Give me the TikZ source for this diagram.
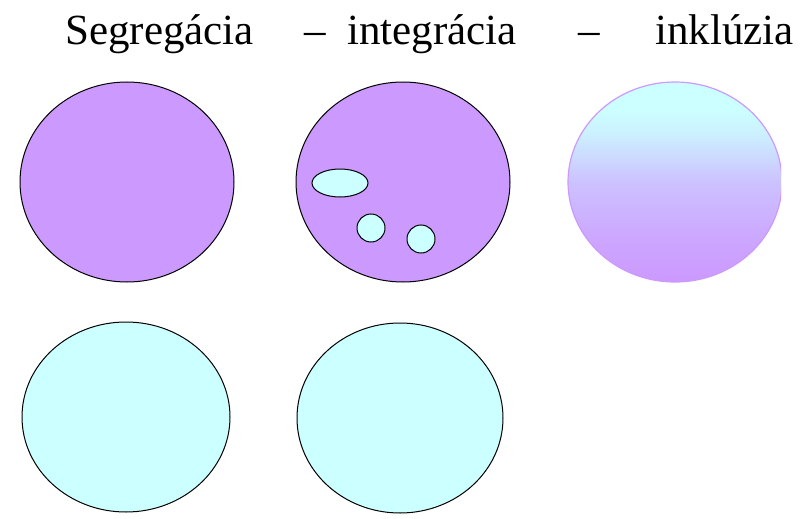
\documentclass[tikz,border=0pt]{standalone}
\usepackage{fontspec}
\setmainfont{Liberation Serif}
\definecolor{lila}{HTML}{CC99FF}
\definecolor{cyanl}{HTML}{CCFFFF}
\pgfdeclareverticalshading{inclshade}{100bp}{color(0bp)=(lila); color(25bp)=(lila); color(35bp)=(lila!88!cyanl); color(50bp)=(cyanl!40!lila); color(62bp)=(cyanl!85!lila); color(68bp)=(cyanl); color(100bp)=(cyanl)}
\begin{document}
\begin{tikzpicture}[x=1pt,y=-1pt,
  title/.style={anchor=base west,inner sep=0pt,font=\fontsize{43}{50}\selectfont},
  bigc/.style={draw=black,line width=1pt},
  small/.style={draw=black,line width=1pt,fill=cyanl}]
\useasboundingbox (0,0) rectangle (803,519);
\node[title] (t1) at (65,45) {Segregácia};
\node[title] (d1) at (304,45) {–};
\node[title] (t2) at (347,45) {integrácia};
\node[title] (d2) at (578,45) {–};
\node[title] (t3) at (655,45) {inklúzia};
% top row
\draw[bigc,fill=lila] (127,182) ellipse [x radius=107,y radius=100];
\draw[bigc,fill=lila] (403,182) ellipse [x radius=107,y radius=100];
\draw[small] (340,183) ellipse [x radius=28,y radius=14];
\draw[small] (371,228) circle [radius=14];
\draw[small] (421,239) circle [radius=14];
\begin{scope}
\clip (560,70) rectangle (781,290);
\shade[shading=inclshade] (675,182) ellipse [x radius=107,y radius=100];
\draw[lila,line width=1.2pt] (675,182) ellipse [x radius=107,y radius=100];
\end{scope}
% bottom row
\draw[bigc,fill=cyanl] (126,417) ellipse [x radius=104,y radius=95];
\draw[bigc,fill=cyanl] (400,418) ellipse [x radius=103,y radius=95];
\end{tikzpicture}
\end{document}
